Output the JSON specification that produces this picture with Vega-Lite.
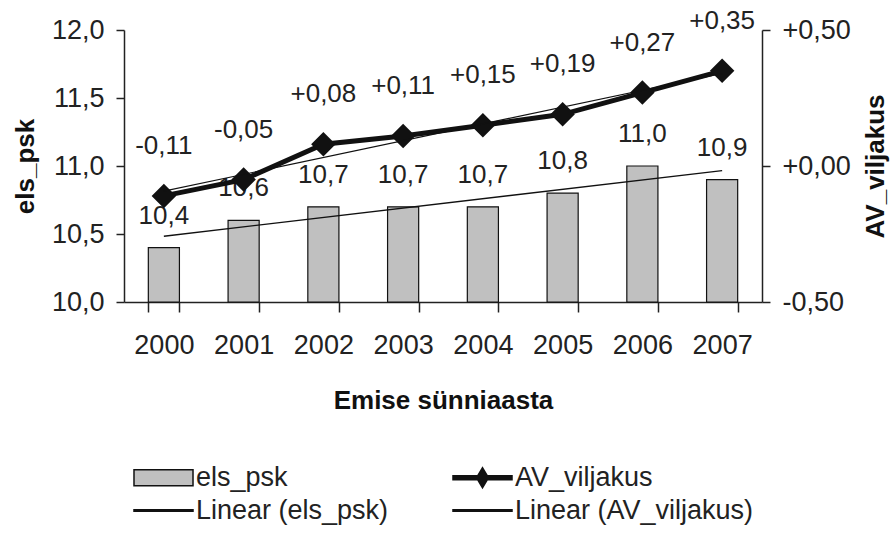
{
  "$schema": "https://vega.github.io/schema/vega-lite/v6.json",
  "width": 638,
  "height": 272,
  "autosize": {"type": "none"},
  "padding": {"left": 124, "top": 30, "right": 128, "bottom": 235},
  "background": "white",
  "config": {
    "view": {"stroke": null},
    "locale": {"number": {"decimal": ",", "thousands": " ", "grouping": [3], "currency": ["", " €"], "minus": "-"}},
    "axis": {
      "labelFont": "Liberation Sans",
      "labelFontSize": 27,
      "labelColor": "#222",
      "titleFont": "Liberation Sans",
      "titleFontWeight": "bold",
      "titleFontSize": 26,
      "titleColor": "#111",
      "domainColor": "#222",
      "tickColor": "#222",
      "domainWidth": 1.5,
      "tickWidth": 1.5,
      "grid": false
    },
    "text": {"font": "Liberation Sans", "fontSize": 26, "fill": "#222"}
  },
  "data": {
    "values": [
      {"year": 2000, "els": 10.4, "av": -0.11},
      {"year": 2001, "els": 10.6, "av": -0.05},
      {"year": 2002, "els": 10.7, "av": 0.08},
      {"year": 2003, "els": 10.7, "av": 0.11},
      {"year": 2004, "els": 10.7, "av": 0.15},
      {"year": 2005, "els": 10.8, "av": 0.19},
      {"year": 2006, "els": 11.0, "av": 0.27},
      {"year": 2007, "els": 10.9, "av": 0.35}
    ]
  },
  "encoding": {
    "x": {
      "field": "year",
      "type": "ordinal",
      "scale": {"paddingInner": 0.61, "paddingOuter": 0.305},
      "axis": {"title": "Emise sünniaasta", "labelAngle": 0, "tickBand": "extent", "tickSize": 10, "labelPadding": 20, "titleX": 319, "titleY": 98, "titleAnchor": "middle", "titleAlign": "center", "titleBaseline": "middle"}
    }
  },
  "layer": [
    {
      "encoding": {
        "y": {
          "field": "els",
          "type": "quantitative",
          "scale": {"domain": [10, 12], "nice": false, "zero": false},
          "axis": {"title": "els_psk", "values": [10, 10.5, 11, 11.5, 12], "format": ".1f", "tickSize": 8, "labelPadding": 12, "titleAngle": -90, "titleX": -99, "titleY": 136, "titleAlign": "center", "titleBaseline": "middle"}
        }
      },
      "layer": [
        {
          "mark": {"type": "bar", "stroke": "#111", "strokeWidth": 1.2},
          "encoding": {
            "y2": {"datum": 10},
            "fill": {
              "datum": "els_psk",
              "type": "nominal",
              "scale": {"domain": ["els_psk", "AV_viljakus", "Linear (els_psk)", "Linear (AV_viljakus)"], "range": ["#c0c0c0", "#111", "#111", "#111"]},
              "legend": {
                "orient": "none", "legendX": 9, "legendY": 428, "direction": "horizontal", "columns": 2, "columnPadding": 60, "rowPadding": 0,
                "title": null,
                "labelFont": "Liberation Sans", "labelFontSize": 27, "labelColor": "#222", "labelLimit": 400, "labelOffset": 13,
                "symbolSize": 1369, "symbolOffset": 11,
                "symbolType": {"expr": "datum.value === 'els_psk' ? 'M-1.595,-0.43H1.595V0.43H-1.595Z' : datum.value === 'AV_viljakus' ? 'M-1.595,-0.11H-0.255L0,-0.54L0.255,-0.11H1.595V0.11H0.255L0,0.54L-0.255,0.11H-1.595Z' : 'M-1.595,-0.04H1.595V0.04H-1.595Z'"},
                "encode": {"symbols": {
                  "shape": {"signal": "datum.value === 'els_psk' ? 'M-1.595,-0.43H1.595V0.43H-1.595Z' : datum.value === 'AV_viljakus' ? 'M-1.595,-0.11H-0.255L0,-0.54L0.255,-0.11H1.595V0.11H0.255L0,0.54L-0.255,0.11H-1.595Z' : 'M-1.595,-0.04H1.595V0.04H-1.595Z'"},
                  "stroke": {"value": "#111"},
                  "strokeWidth": {"signal": "datum.value === 'els_psk' ? 1.5 : 0"},
                  "opacity": {"value": 1}
                }}
              }
            }
          }
        },
        {
          "transform": [{"regression": "els", "on": "year"}],
          "mark": {"type": "line", "strokeWidth": 1.3, "color": "#111"}
        },
        {
          "mark": {"type": "text", "dy": -32, "baseline": "middle"},
          "encoding": {"text": {"field": "els", "type": "quantitative", "format": ".1f"}}
        }
      ]
    },
    {
      "encoding": {
        "y": {
          "field": "av",
          "type": "quantitative",
          "scale": {"domain": [-0.5, 0.5], "nice": false, "zero": false},
          "axis": {"orient": "right", "title": "AV_viljakus", "values": [-0.5, 0, 0.5], "format": "+.2f", "tickSize": 8, "labelPadding": 12, "titleAngle": -90, "titleX": 113, "titleY": 136, "titleAlign": "center", "titleBaseline": "middle"}
        }
      },
      "layer": [
        {
          "mark": {"type": "line", "strokeWidth": 5, "color": "#111", "point": {"shape": "diamond", "size": 600, "filled": true, "color": "#111"}}
        },
        {
          "transform": [{"regression": "av", "on": "year"}],
          "mark": {"type": "line", "strokeWidth": 1.2, "color": "#111"}
        },
        {
          "mark": {"type": "text", "dy": -50, "baseline": "middle"},
          "encoding": {"text": {"field": "av", "type": "quantitative", "format": "+.2f"}}
        }
      ]
    }
  ],
  "resolve": {"scale": {"y": "independent"}}
}
